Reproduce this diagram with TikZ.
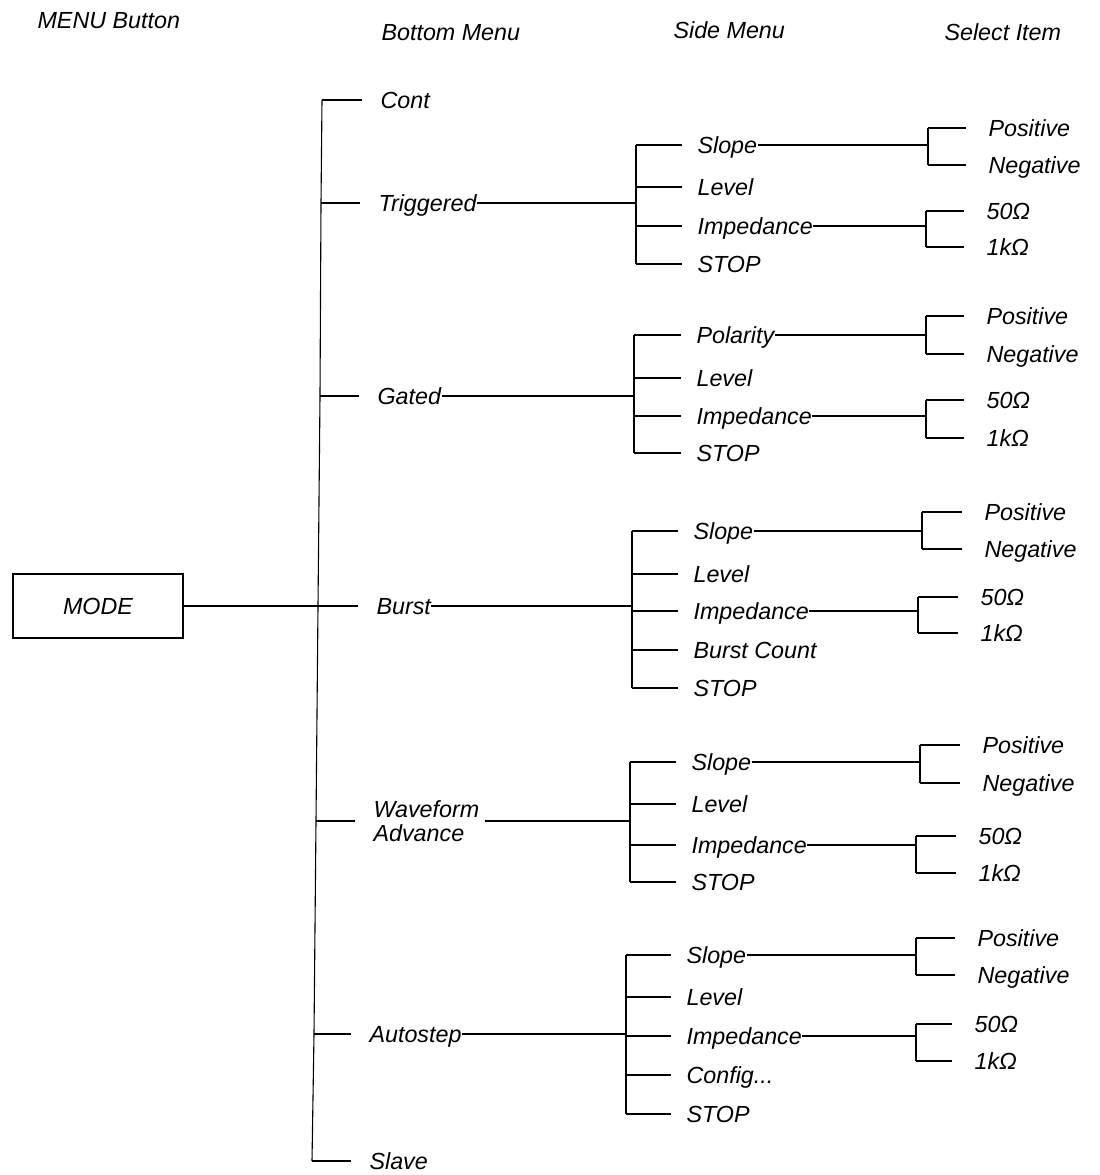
\documentclass[tikz,border=0pt]{standalone}
\usepackage{fontspec}
\setmainfont{Liberation Sans}
\newcommand\selpair[8]{%
  \node[lbl] (#1a) at (#4,#5) {#7};
  \node[lbl] (#1b) at (#4,#6) {#8};
  \coordinate (#1k) at (#3,0);
  \draw (#2.east) -- (#1k |- #2.east);
  \draw (#1k |- #1a.west) -- (#1k |- #1b.west);
  \draw[tkl] (#1k |- #1a.west) -- (#1a.west);
  \draw[tkl] (#1k |- #1b.west) -- (#1b.west);
}
\begin{document}
\begin{tikzpicture}[x=1pt,y=-1pt,line width=1.1pt,
  lbl/.style={anchor=west,inner sep=0pt,text height=16pt,text depth=0pt,font=\itshape\fontsize{23.3}{27}\selectfont},
  tkb/.style={shorten >=18pt},
  tks/.style={shorten >=15pt},
  tkl/.style={shorten >=22pt}]
\useasboundingbox[fill=white] (0,0) rectangle (1100,1175);

% headers
\node[lbl] (h1) at (37,20) {MENU Button};
\node[lbl] (h2) at (381,32) {Bottom Menu};
\node[lbl] (h3) at (673,30) {Side Menu};
\node[lbl] (h4) at (944,32) {Select Item};

% MODE button
\node[draw,minimum width=170pt,minimum height=64pt,inner sep=0pt,font=\itshape\fontsize{23.3}{27}\selectfont] (mode) at (98,606) {MODE};

% bottom menu
\node[lbl] (cont) at (380,100) {Cont};
\node[lbl] (trig) at (378,203) {Triggered};
\node[lbl] (gated) at (377,396) {Gated};
\node[lbl] (burst) at (376,606) {Burst};
\node[anchor=west,inner sep=0pt,align=left,font=\itshape\fontsize{23.3}{24}\selectfont] (wave) at (373,821) {Waveform\\Advance};
\node[lbl] (auto) at (369,1034) {Autostep};
\node[lbl] (slave) at (369,1161) {Slave};

\coordinate (tc) at (322,100);
\coordinate (tt) at (321,203);
\coordinate (tg) at (320,396);
\coordinate (tb) at (318,606);
\coordinate (tw) at (316,821);
\coordinate (ta) at (314,1034);
\coordinate (tsl) at (312,1161);
\draw (tc) -- (tt) -- (tg) -- (tb) -- (tw) -- (ta) -- (tsl);
\draw[tkb] (tc) -- (cont.west);
\draw[tkb] (tt) -- (trig.west);
\draw[tkb] (tg) -- (gated.west);
\draw (mode.east) -- (tb);
\draw[tkb] (tb) -- (burst.west);
\draw[tkb] (tw) -- (wave.west);
\draw[tkb] (ta) -- (auto.west);
\draw[tkb] (tsl) -- (slave.west);

% ---- Triggered group
\coordinate (b1) at (636,0);
\node[lbl] (t1) at (697,145) {Slope};
\node[lbl] (t2) at (697,187) {Level};
\node[lbl] (t3) at (697,226) {Impedance};
\node[lbl] (t4) at (697,264) {STOP};
\draw (trig.east) -- (b1 |- trig.east);
\draw (b1 |- t1.west) -- (b1 |- t4.west);
\foreach \n in {t1,t2,t3,t4} \draw[tks] (b1 |- \n.west) -- (\n.west);
\selpair{ts}{t1}{928}{988}{128}{165}{Positive}{Negative}
\selpair{ti}{t3}{926}{986}{211}{247}{50Ω}{1kΩ}

% ---- Gated group
\coordinate (b2) at (634,0);
\node[lbl] (g1) at (696,335) {Polarity};
\node[lbl] (g2) at (696,378) {Level};
\node[lbl] (g3) at (696,416) {Impedance};
\node[lbl] (g4) at (696,453) {STOP};
\draw (gated.east) -- (b2 |- gated.east);
\draw (b2 |- g1.west) -- (b2 |- g4.west);
\foreach \n in {g1,g2,g3,g4} \draw[tks] (b2 |- \n.west) -- (\n.west);
\selpair{gs}{g1}{926}{986}{316}{354}{Positive}{Negative}
\selpair{gi}{g3}{926}{986}{400}{438}{50Ω}{1kΩ}

% ---- Burst group
\coordinate (b3) at (632,0);
\node[lbl] (u1) at (693,531) {Slope};
\node[lbl] (u2) at (693,574) {Level};
\node[lbl] (u3) at (693,611) {Impedance};
\node[lbl] (u4) at (693,650) {Burst Count};
\node[lbl] (u5) at (693,688) {STOP};
\draw (burst.east) -- (b3 |- burst.east);
\draw (b3 |- u1.west) -- (b3 |- u5.west);
\foreach \n in {u1,u2,u3,u4,u5} \draw[tks] (b3 |- \n.west) -- (\n.west);
\selpair{us}{u1}{922}{984}{512}{549}{Positive}{Negative}
\selpair{ui}{u3}{918}{980}{597}{633}{50Ω}{1kΩ}

% ---- Waveform Advance group
\coordinate (b4) at (630,0);
\node[lbl] (w1) at (691,762) {Slope};
\node[lbl] (w2) at (691,804) {Level};
\node[lbl] (w3) at (691,845) {Impedance};
\node[lbl] (w4) at (691,882) {STOP};
\draw[shorten <=5pt] (wave.east) -- (b4 |- wave.east);
\draw (b4 |- w1.west) -- (b4 |- w4.west);
\foreach \n in {w1,w2,w3,w4} \draw[tks] (b4 |- \n.west) -- (\n.west);
\selpair{ws}{w1}{920}{982}{745}{783}{Positive}{Negative}
\selpair{wi}{w3}{916}{978}{836}{873}{50Ω}{1kΩ}

% ---- Autostep group
\coordinate (b5) at (626,0);
\node[lbl] (a1) at (686,955) {Slope};
\node[lbl] (a2) at (686,997) {Level};
\node[lbl] (a3) at (686,1036) {Impedance};
\node[lbl] (a4) at (686,1075) {Config...};
\node[lbl] (a5) at (686,1114) {STOP};
\draw (auto.east) -- (b5 |- auto.east);
\draw (b5 |- a1.west) -- (b5 |- a5.west);
\foreach \n in {a1,a2,a3,a4,a5} \draw[tks] (b5 |- \n.west) -- (\n.west);
\selpair{as}{a1}{916}{977}{938}{975}{Positive}{Negative}
\selpair{ai}{a3}{916}{974}{1024}{1061}{50Ω}{1kΩ}
\end{tikzpicture}
\end{document}
